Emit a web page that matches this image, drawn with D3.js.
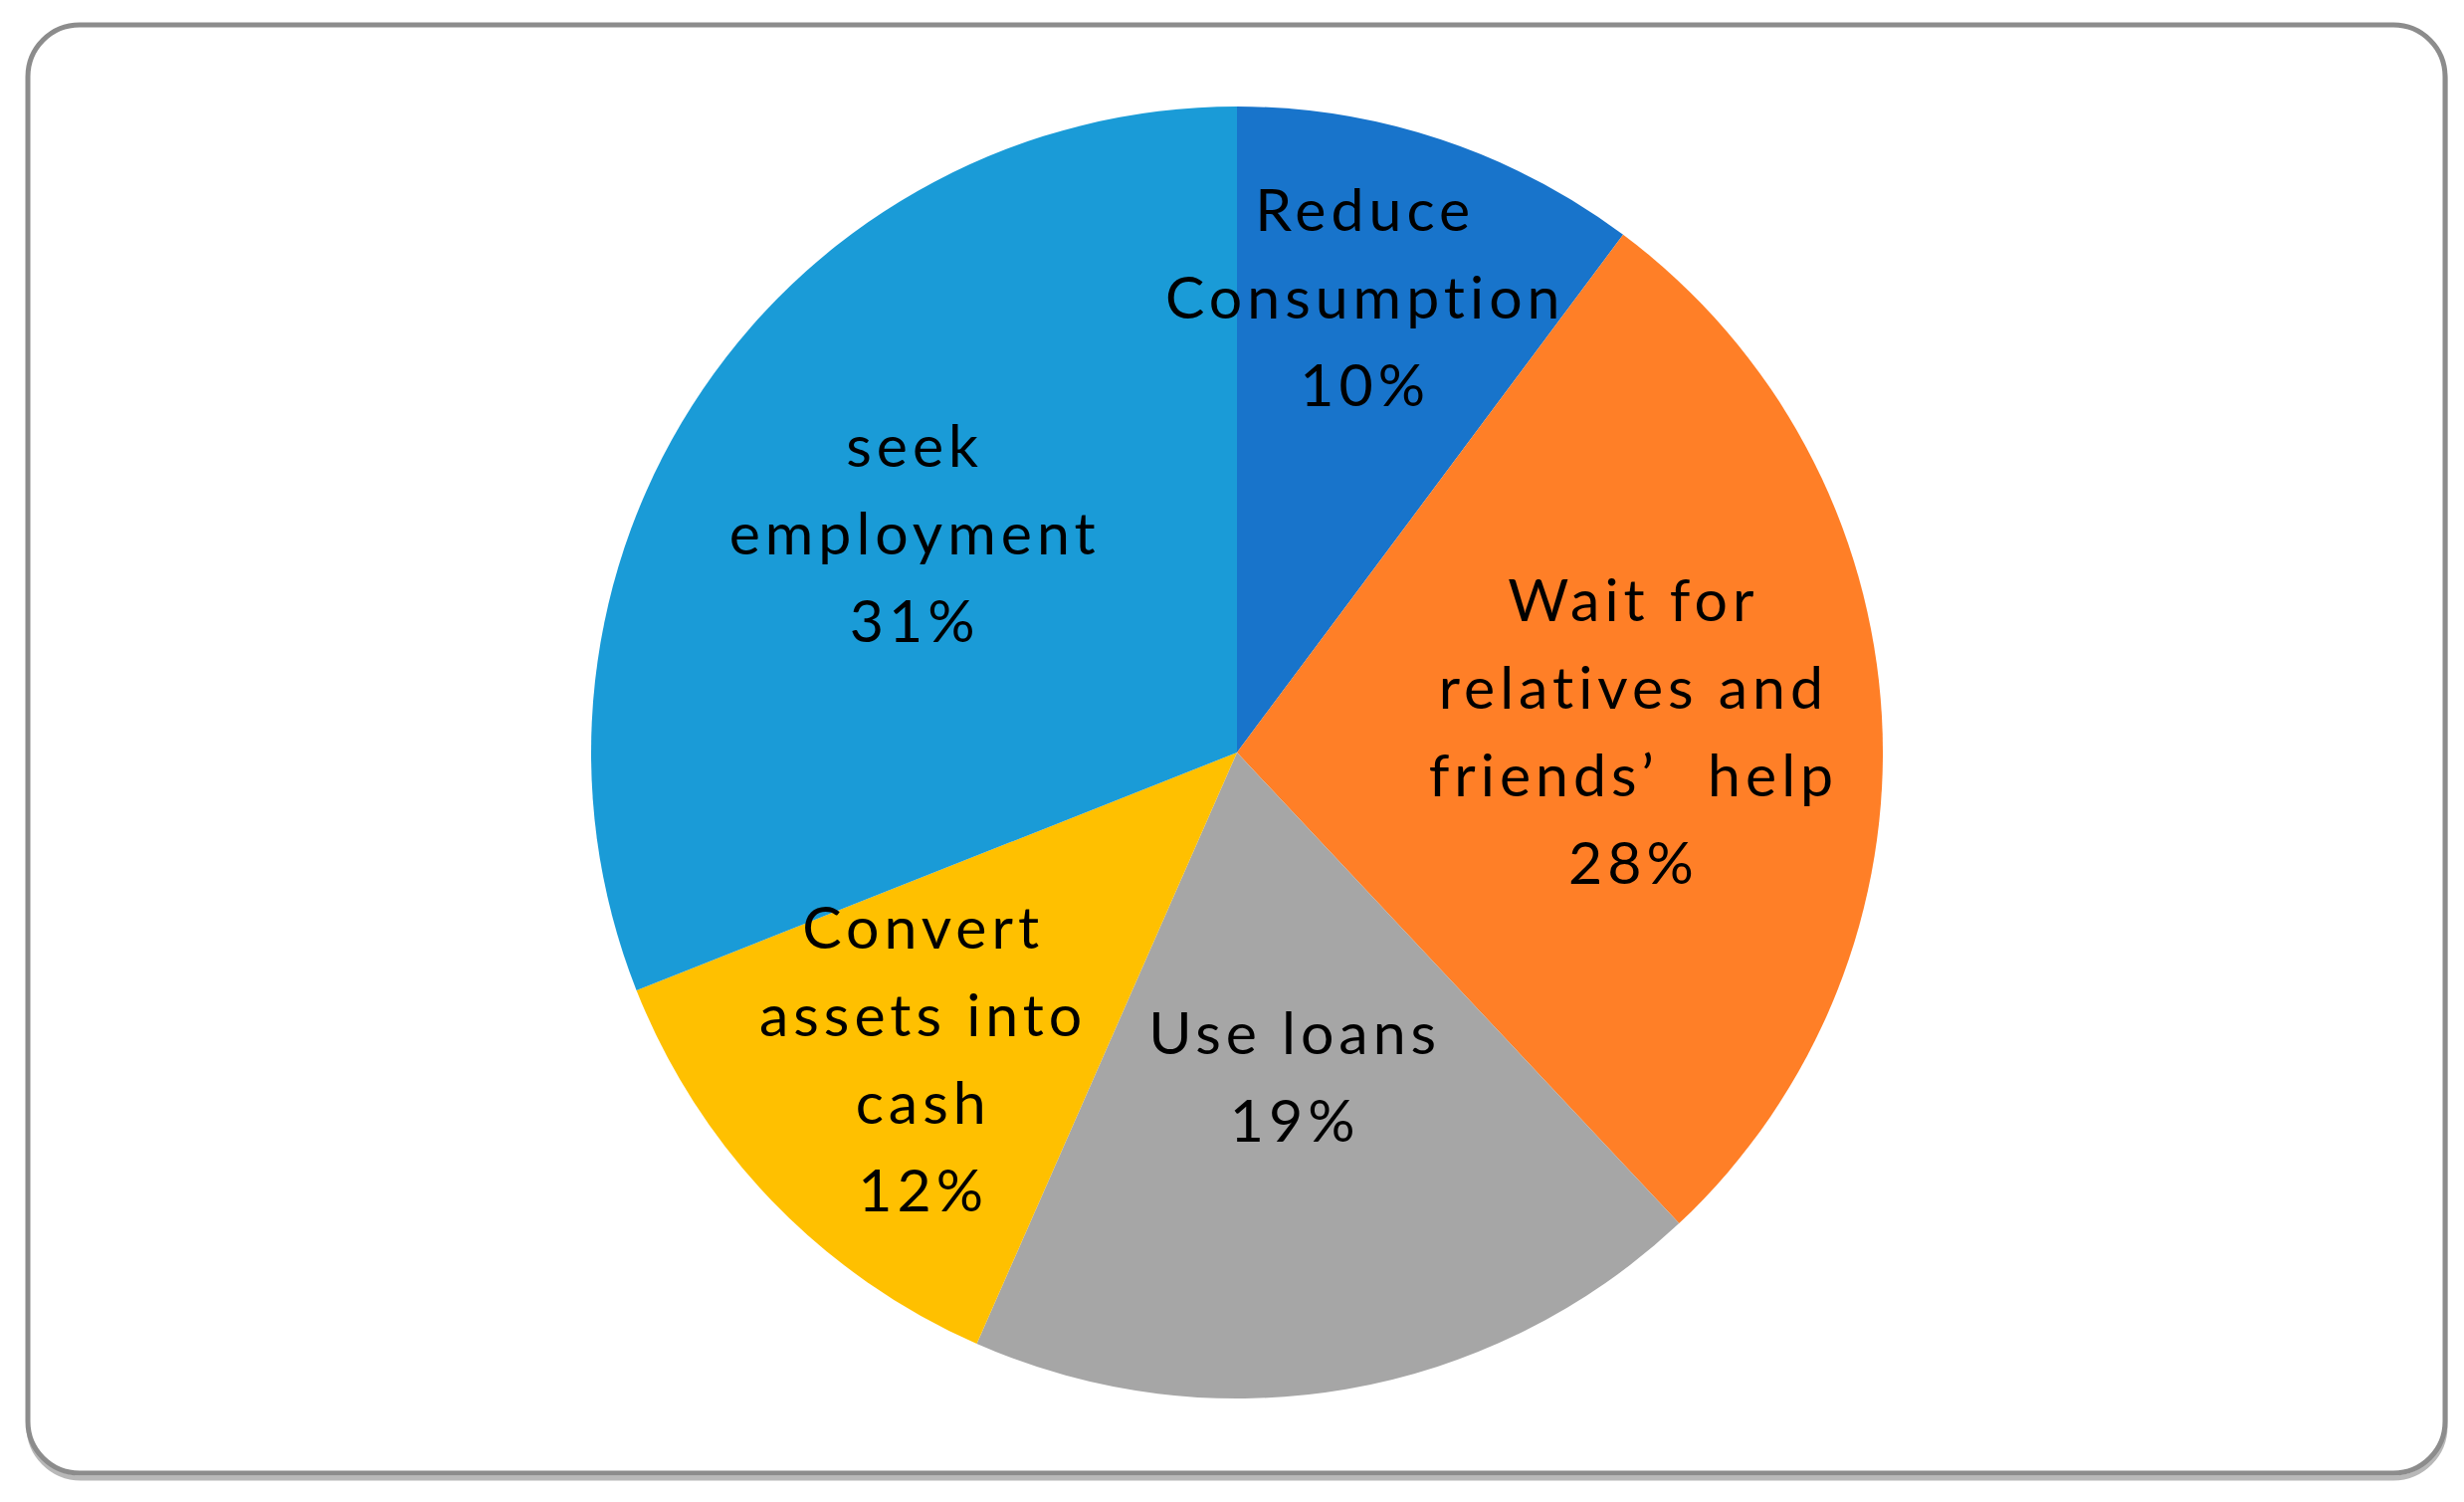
<!DOCTYPE html>
<html>
<head>
<meta charset="utf-8">
<script src="https://cdn.jsdelivr.net/npm/d3@7"></script>
<style>
  html, body { margin: 0; padding: 0; background: #ffffff; }
  svg { display: block; }
</style>
</head>
<body>
<svg id="chart" width="2476" height="1509"></svg>
<script>
// ---- data ----
const categories = ["Reduce Consumption", "Wait for relatives and friends’ help", "Use loans", "Convert assets into cash", "seek employment"];
const labelLines = [
  ["Reduce", "Consumption"],
  ["Wait for", "relatives and", "friends’\u2003help"],
  ["Use loans"],
  ["Convert", "assets into", "cash"],
  ["seek", "employment"]
];
const values = [10.2, 27.8, 18.6, 12.4, 31.0];
const percentLabels = ["10%", "28%", "19%", "12%", "31%"];

// ---- style / layout ----
const colors = ["#1874CB", "#FF7F27", "#A6A6A6", "#FFC000", "#1A9BD7"];
const labelRadiusFrac = [0.73, 0.611, 0.508, 0.68, 0.608];
const labelNudge = [[-23, -9], [0, 0], [0, 0], [0, 0], [0, 0]];

const W = 2476, H = 1509;
const cx = 1243, cy = 756, R = 649;
const lineH = 88;
const letterSpacing = 5;

const svg = d3.select("#chart");

// frame shadow (bottom edge slightly heavier in reference)
svg.append("rect")
  .attr("x", 29).attr("y", 28)
  .attr("width", 2428).attr("height", 1457)
  .attr("rx", 52).attr("ry", 52)
  .attr("fill", "none")
  .attr("stroke", "#b8b8b8")
  .attr("stroke-width", 5);

// frame
svg.append("rect")
  .attr("x", 28).attr("y", 25)
  .attr("width", 2429).attr("height", 1455)
  .attr("rx", 52).attr("ry", 52)
  .attr("fill", "#ffffff")
  .attr("stroke", "#8c8c8c")
  .attr("stroke-width", 5);

const data = categories.map((c, i) => ({ cat: c, value: values[i], idx: i }));

const pie = d3.pie().value(d => d.value).sort(null);
const arcs = pie(data);
const arc = d3.arc().innerRadius(0).outerRadius(R);

const g = svg.append("g").attr("transform", `translate(${cx},${cy})`);

g.selectAll("path.slice")
  .data(arcs)
  .join("path")
  .attr("class", "slice")
  .attr("d", arc)
  .attr("fill", d => colors[d.data.idx]);

g.selectAll("text.lbl")
  .data(arcs)
  .join("text")
  .attr("class", "lbl")
  .attr("font-family", "Lato, 'Open Sans', sans-serif")
  .attr("font-size", 59)
  .attr("letter-spacing", letterSpacing)
  .attr("fill", "#000000")
  .attr("text-anchor", "middle")
  .each(function(d) {
    const i = d.data.idx;
    const r = R * labelRadiusFrac[i];
    const a = (d.startAngle + d.endAngle) / 2;
    const x = r * Math.sin(a) + labelNudge[i][0] + letterSpacing / 2;
    const y = -r * Math.cos(a) + labelNudge[i][1];
    const lines = labelLines[i].concat([percentLabels[i]]);
    const n = lines.length;
    const t = d3.select(this);
    lines.forEach((ln, k) => {
      t.append("tspan")
        .attr("x", x)
        .attr("y", y + (k - (n - 1) / 2) * lineH)
        .attr("dominant-baseline", "central")
        .text(ln);
    });
  });
</script>
</body>
</html>
